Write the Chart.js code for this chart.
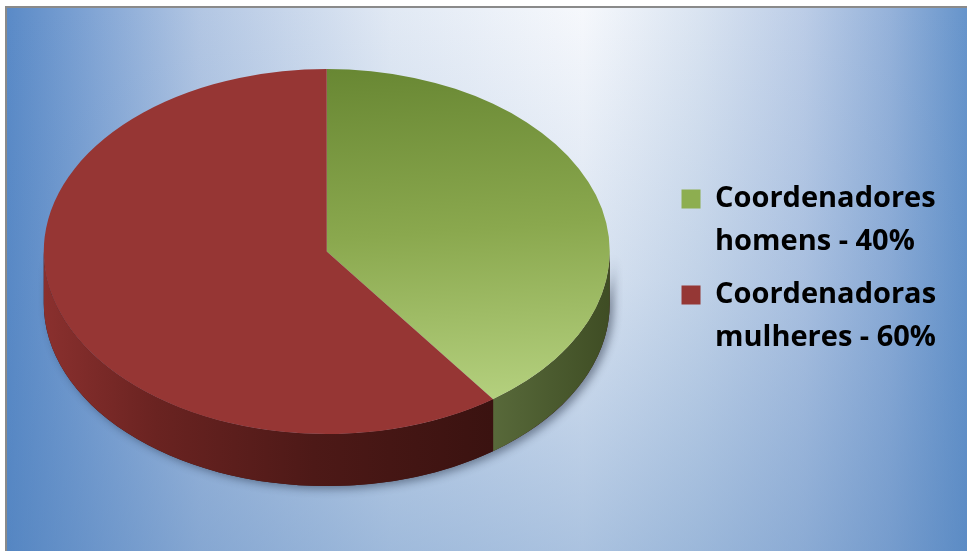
<!DOCTYPE html>
<html>
<head>
<meta charset="utf-8">
<script src="https://cdn.jsdelivr.net/npm/chart.js@4.4.1/dist/chart.umd.min.js"></script>
<style>
  html, body { margin: 0; padding: 0; background: #fff; }
  #wrap { width: 967px; height: 551px; }
</style>
</head>
<body>
<div id="wrap"><canvas id="c" width="967" height="551"></canvas></div>
<script>
// ---- data ----
const categories = ['Coordenadores homens', 'Coordenadoras mulheres'];
const values = [40, 60];
const legendLines = [
  ['Coordenadores', 'homens - 40%'],
  ['Coordenadoras', 'mulheres - 60%']
];

// ---- style ----
const topColors = ['#7a9a40', '#963634'];
const legendColors = ['#8dae50', '#953735'];
const sideStops = [
  [[0, '#58693a'], [0.5, '#4b5b2f'], [1, '#3f4d24']],
  [[0, '#8a302e'], [0.25, '#6a2321'], [0.6, '#4d1917'], [1, '#3a1210']]
];
const PIE_RADIUS = 283;
const PIE_TILT = 0.645;
const PIE_DEPTH = 52;
const PIE_OFFSET = { x: -9, y: -24 };

function pieGeom(chart) {
  const a = chart.chartArea;
  const cx0 = (a.left + a.right) / 2, cy0 = (a.top + a.bottom) / 2;
  return { cx0, cy0, cx: cx0 + PIE_OFFSET.x, cy: cy0 + PIE_OFFSET.y };
}

const background = {
  id: 'background',
  beforeDraw(chart) {
    const { ctx, width, height } = chart;
    ctx.save();
    ctx.fillStyle = '#ffffff';
    ctx.fillRect(0, 0, width, height);
    const x0 = 7, y0 = 8;
    const g = ctx.createLinearGradient(x0, 0, width, 0);
    g.addColorStop(0.00, '#5a8ac7');
    g.addColorStop(0.10, '#86a8d6');
    g.addColorStop(0.20, '#b2c6e3');
    g.addColorStop(0.40, '#e1e9f4');
    g.addColorStop(0.60, '#f6f8fc');
    g.addColorStop(0.72, '#dae4f1');
    g.addColorStop(0.83, '#bccde7');
    g.addColorStop(0.92, '#95b2da');
    g.addColorStop(1.00, '#6694cb');
    ctx.fillStyle = g;
    ctx.fillRect(x0, y0, width - x0, height - y0);
    const v = ctx.createLinearGradient(0, y0, 0, height);
    v.addColorStop(0, 'rgba(79,129,189,0)');
    v.addColorStop(0.5, 'rgba(79,129,189,0.18)');
    v.addColorStop(1, 'rgba(79,129,189,0.45)');
    ctx.fillStyle = v;
    ctx.fillRect(x0, y0, width - x0, height - y0);
    ctx.fillStyle = '#8a8a8a';
    ctx.fillRect(5, 6, width - 5, 2);
    ctx.fillRect(5, 6, 2, height - 6);
    ctx.restore();
  }
};

const pie3d = {
  id: 'pie3d',
  beforeDatasetsDraw(chart) {
    const meta = chart.getDatasetMeta(0);
    const arcs = meta.data;
    if (!arcs.length) return;
    const ctx = chart.ctx;
    const a0 = arcs[0];
    const cx0 = a0.x, cy0 = a0.y;
    const cx = cx0 + PIE_OFFSET.x, cy = cy0 + PIE_OFFSET.y;
    const R = a0.outerRadius, ry = R * PIE_TILT, D = PIE_DEPTH;

    const sidePath = (a, b) => {
      ctx.beginPath();
      ctx.ellipse(cx, cy, R, ry, 0, a, b, false);
      ctx.ellipse(cx, cy + D, R, ry, 0, b, a, true);
      ctx.closePath();
    };
    // shadow under the whole side
    ctx.save();
    ctx.shadowColor = 'rgba(20,30,50,0.45)';
    ctx.shadowBlur = 8;
    ctx.shadowOffsetX = 4;
    ctx.shadowOffsetY = 3;
    ctx.fillStyle = '#3a1210';
    sidePath(0, Math.PI);
    ctx.fill();
    ctx.restore();

    arcs.forEach((arc, i) => {
      const TWO = Math.PI * 2;
      for (const k of [-TWO, 0, TWO]) {
        const s = Math.max(arc.startAngle + k, 0);
        const e = Math.min(arc.endAngle + k, Math.PI);
        if (e <= s) continue;
        const xs = cx + R * Math.cos(e), xe = cx + R * Math.cos(s);
        const g = ctx.createLinearGradient(Math.min(xs, xe), 0, Math.max(xs, xe), 0);
        const stops = sideStops[i];
        // left-to-right on screen
        stops.forEach(([p, c]) => g.addColorStop(p, c));
        ctx.fillStyle = g;
        sidePath(s, e);
        ctx.fill();
      }
    });

    ctx.save();
    ctx.translate(cx, cy);
    ctx.scale(1, PIE_TILT);
    ctx.translate(-cx0, -cy0);
  },
  afterDatasetsDraw(chart) {
    const meta = chart.getDatasetMeta(0);
    if (!meta.data.length) return;
    chart.ctx.restore();
  }
};

function greenFill(context) {
  const chart = context.chart;
  if (!chart.chartArea) return topColors[0];
  const { cx0, cy0 } = pieGeom(chart);
  const g = chart.ctx.createLinearGradient(cx0, cy0 - PIE_RADIUS, cx0 + PIE_RADIUS * 0.2, cy0 + PIE_RADIUS * 0.85);
  g.addColorStop(0, '#688733');
  g.addColorStop(0.5, '#8aa84e');
  g.addColorStop(1, '#b4d07e');
  return g;
}

new Chart(document.getElementById('c'), {
  type: 'pie',
  data: {
    labels: categories,
    datasets: [{
      data: values,
      backgroundColor: (ctx) => ctx.dataIndex === 0 ? greenFill(ctx) : topColors[1],
      borderWidth: 0,
      radius: PIE_RADIUS,
      clip: false
    }]
  },
  options: {
    responsive: false,
    devicePixelRatio: 1,
    animation: false,
    layout: { padding: { left: 0, right: 21, top: 0, bottom: 0 } },
    plugins: {
      tooltip: { enabled: false },
      legend: {
        position: 'right',
        align: 'center',
        labels: {
          boxWidth: 19,
          boxHeight: 19,
          padding: 10,
          color: '#000',
          font: { family: 'Open Sans', weight: 'bold', size: 29, lineHeight: '43px' },
          generateLabels: () => categories.map((c, i) => ({
            text: legendLines[i],
            fillStyle: legendColors[i],
            strokeStyle: legendColors[i],
            lineWidth: 0,
            fontColor: '#000',
            hidden: false,
            index: i
          }))
        }
      }
    }
  },
  plugins: [background, pie3d]
});
</script>
</body>
</html>
